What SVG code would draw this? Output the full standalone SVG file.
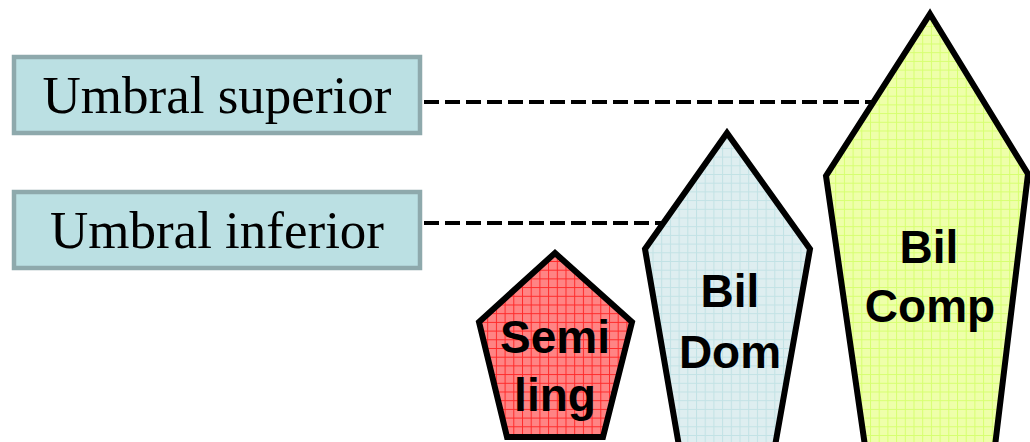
<svg xmlns="http://www.w3.org/2000/svg" width="1030" height="442" viewBox="0 0 1030 442">
  <style>
    .label-box { fill: #bbe0e3; stroke: #8ea9ac; stroke-width: 4.5; }
    .label-text { font-family: "Liberation Serif", "Times New Roman", serif; font-size: 53px; fill: #000; text-anchor: middle; }
    .stage { stroke: #000; stroke-width: 6; stroke-linejoin: miter; }
    .stage-text { font-family: "Liberation Sans", Arial, sans-serif; font-weight: bold; font-size: 46px; fill: #000; text-anchor: middle; }
    .threshold { fill: none; stroke: #000; stroke-width: 4; stroke-dasharray: 15 6; }
  </style>
  <defs>
    <pattern id="grid-red" patternUnits="userSpaceOnUse" width="8.7" height="8.7">
      <rect width="8.7" height="8.7" fill="#ff8484"/>
      <path d="M0 0.5H8.7M0.5 0V8.7" stroke="#ff2a2a" stroke-width="1"/>
    </pattern>
    <pattern id="grid-blue" patternUnits="userSpaceOnUse" width="8.7" height="8.7">
      <rect width="8.7" height="8.7" fill="#deeef0"/>
      <path d="M0 0.5H8.7M0.5 0V8.7" stroke="#c2e2e5" stroke-width="1"/>
    </pattern>
    <pattern id="grid-green" patternUnits="userSpaceOnUse" width="8.7" height="8.7">
      <rect width="8.7" height="8.7" fill="#eeffaa"/>
      <path d="M0 0.5H8.7M0.5 0V8.7" stroke="#d6ff70" stroke-width="1"/>
    </pattern>
  </defs>

  <!-- threshold levels -->
  <g id="connectors">
    <line class="threshold" x1="424" y1="102" x2="874" y2="102"/>
    <line class="threshold" x1="424" y1="223" x2="664" y2="223"/>
  </g>

  <g id="umbral-superior">
    <rect class="label-box" x="14" y="57" width="406" height="76"/>
    <text class="label-text" x="217" y="113">Umbral superior</text>
  </g>

  <g id="umbral-inferior">
    <rect class="label-box" x="14" y="192" width="406" height="76"/>
    <text class="label-text" x="217" y="248">Umbral inferior</text>
  </g>

  <g id="semiling">
    <polygon class="stage" fill="url(#grid-red)" points="555,253 632,322 603,437 507,437 479,322"/>
    <text class="stage-text" x="555" y="353">Semi</text>
    <text class="stage-text" x="555" y="411">ling</text>
  </g>

  <g id="bil-dom">
    <polygon class="stage" fill="url(#grid-blue)" points="727,133 810,249 775,446 679,446 645,249"/>
    <text class="stage-text" x="730" y="307">Bil</text>
    <text class="stage-text" x="730" y="368">Dom</text>
  </g>

  <g id="bil-comp">
    <polygon class="stage" fill="url(#grid-green)" points="930,14 1028,174 995,446 865,446 826,176"/>
    <text class="stage-text" x="929" y="263">Bil</text>
    <text class="stage-text" x="930" y="322">Comp</text>
  </g>
</svg>
